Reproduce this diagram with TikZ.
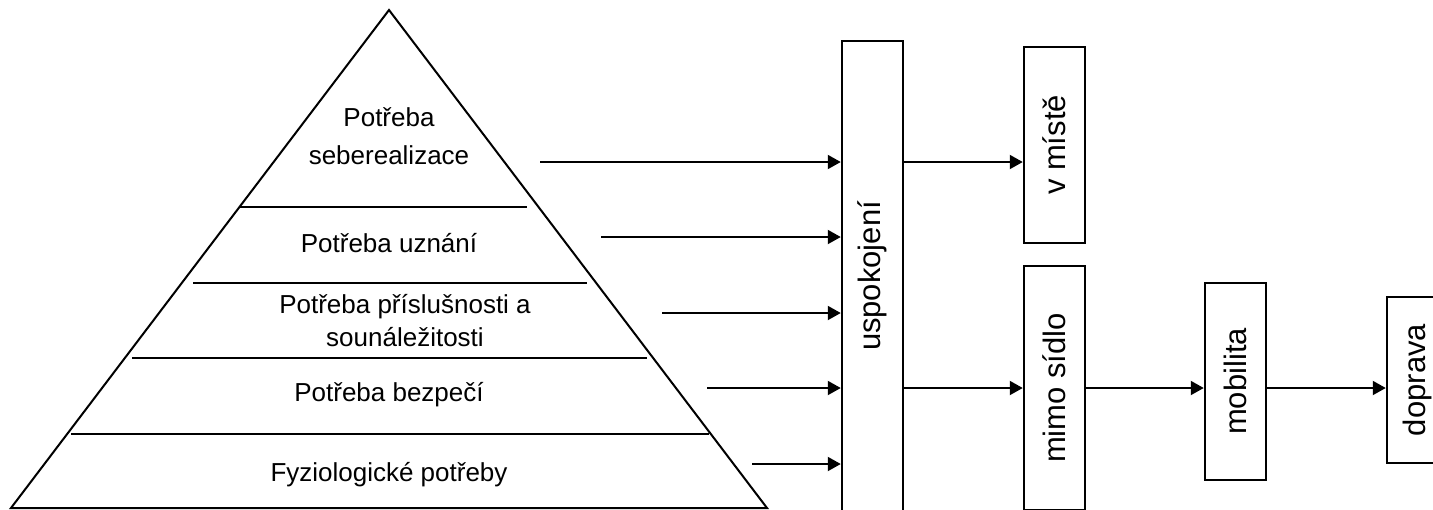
\documentclass[tikz,border=0pt]{standalone}
\usepackage{fontspec}
\setmainfont{Liberation Sans}
\usetikzlibrary{arrows.meta}
\begin{document}
\begin{tikzpicture}[x=1pt,y=-1pt,line join=miter,
  ln/.style={line width=2pt},
  arr/.style={line width=2pt,-{Triangle[length=13pt,width=14pt]}},
  lbl/.style={font=\fontsize{26}{33}\selectfont,align=center,inner sep=0pt},
  vbox/.style={draw,line width=2.5pt,minimum width=61pt,inner sep=0pt},
  vtxt/.style={rotate=90,font=\fontsize{31}{36}\selectfont,inner sep=0pt}]
\clip (0,0) rectangle (1433,509);
% pyramid
\coordinate (apex) at (389,10);
\coordinate (bl) at (11,508);
\coordinate (br) at (767,508);
\draw[ln] (bl) -- (apex) -- (br) -- cycle;
\coordinate (l1a) at (240,207); \coordinate (l1b) at (527,207);
\coordinate (l2a) at (193,283); \coordinate (l2b) at (587,283);
\coordinate (l3a) at (132,358); \coordinate (l3b) at (647,358);
\coordinate (l4a) at (71,434);  \coordinate (l4b) at (709,434);
\draw[ln] (l1a) -- (l1b);
\draw[ln] (l2a) -- (l2b);
\draw[ln] (l3a) -- (l3b);
\draw[ln] (l4a) -- (l4b);
\node[lbl,font=\fontsize{26}{38}\selectfont] (t1) at (389,136) {Potřeba\\seberealizace};
\node[lbl] (t2) at (389,243) {Potřeba uznání};
\node[lbl] (t3) at (405,321) {Potřeba příslušnosti a\\sounáležitosti};
\node[lbl] (t4) at (389,395) {Potřeba bezpečí};
\node[lbl] (t5) at (389,475) {Fyziologické potřeby};
% boxes
\node[vbox,minimum height=470pt] (usp) at (872.5,276) {};
\node[vtxt] (uspt) at (usp.center) {uspokojení};
\node[vbox,minimum height=196pt] (vm) at (1054.5,145) {};
\node[vtxt] (vmt) at (vm.center) {v místě};
\node[vbox,minimum height=244pt] (ms) at (1054.5,388) {};
\node[vtxt] (mst) at (ms.center) {mimo sídlo};
\node[vbox,minimum height=197pt] (mob) at (1235.5,381.5) {};
\node[vtxt] (mobt) at (mob.center) {mobilita};
\node[vbox,minimum height=166pt] (dop) at (1417.5,380) {};
\node[vtxt] (dopt) at (dop.center) {doprava};
% arrows into uspokojeni
\coordinate (a1) at (540,162);
\coordinate (a2) at (601,237);
\coordinate (a3) at (662,313);
\coordinate (a4) at (707,388);
\coordinate (a5) at (752,464);
\draw[arr] (a1) -- (a1 -| usp.west);
\draw[arr] (a2) -- (a2 -| usp.west);
\draw[arr] (a3) -- (a3 -| usp.west);
\draw[arr] (a4) -- (a4 -| usp.west);
\draw[arr] (a5) -- (a5 -| usp.west);
% right arrows
\coordinate (r1) at (900,162);
\draw[arr] (r1 -| usp.east) -- (r1 -| vm.west);
\coordinate (r2) at (900,388);
\draw[arr] (r2 -| usp.east) -- (r2 -| ms.west);
\draw[arr] (r2 -| ms.east) -- (r2 -| mob.west);
\draw[arr] (r2 -| mob.east) -- (r2 -| dop.west);
\end{tikzpicture}
\end{document}
